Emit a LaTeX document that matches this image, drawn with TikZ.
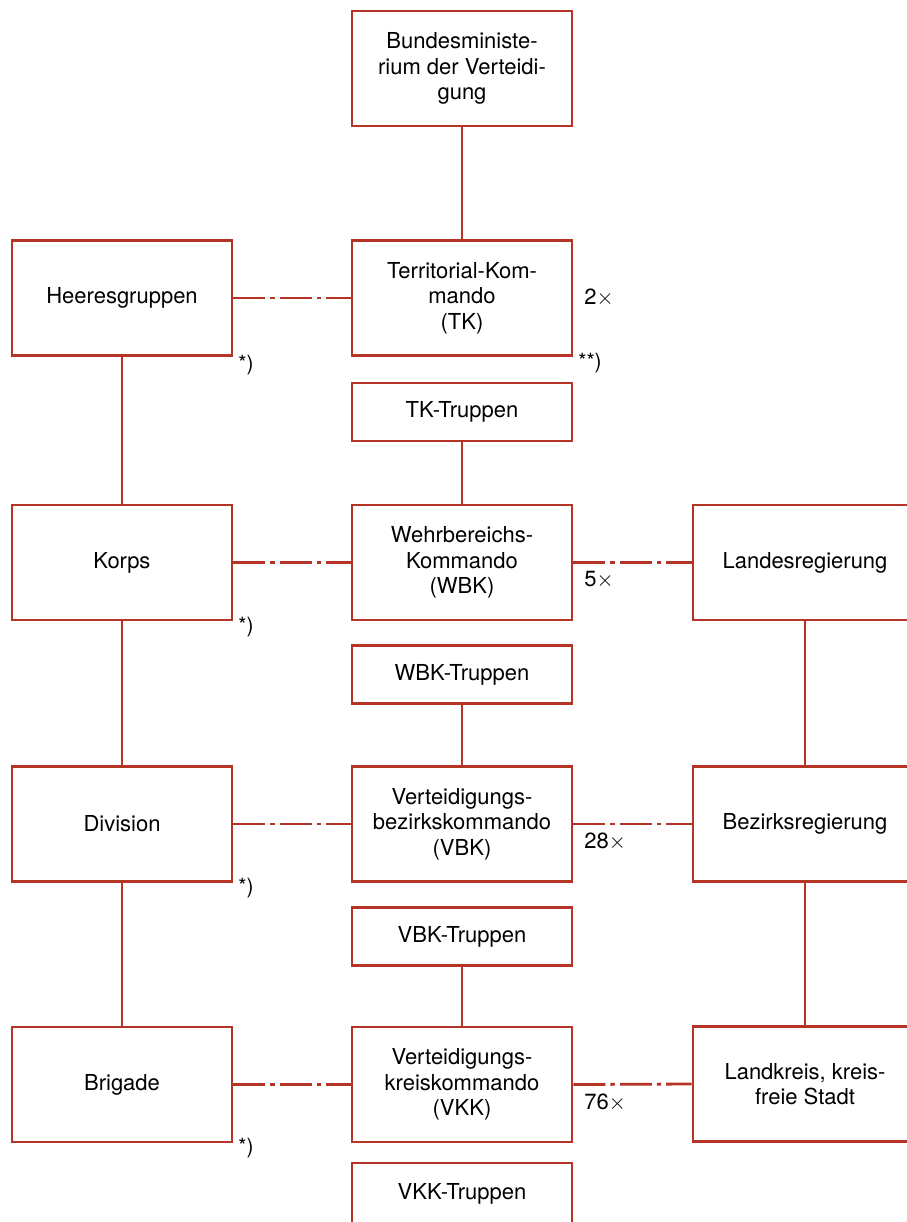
\documentclass[tikz,border=0pt]{standalone}
\usepackage{fontspec}
\setmainfont{TeX Gyre Heros}
\definecolor{lred}{RGB}{182,52,38}
\begin{document}
\begin{tikzpicture}[x=0.5pt,y=-0.5pt,
  box/.style={draw=lred,line width=1.4pt,minimum width=110pt,minimum height=57.5pt,
    inner sep=0pt,align=center,font=\fontsize{11}{12.8}\selectfont,fill=white},
  tbox/.style={box,minimum height=29pt},
  rbox/.style={box,minimum width=112pt},
  link/.style={draw=lred,line width=1.4pt},
  dlink/.style={link,dash pattern=on 16pt off 2.5pt on 2.2pt off 2.5pt},
  lab/.style={font=\fontsize{11}{12.8}\selectfont,inner sep=0pt,anchor=west},
  star/.style={font=\fontsize{10.5}{12}\selectfont,inner sep=0pt,anchor=west}]
\useasboundingbox[fill=white] (0,0) rectangle (906,1222);
% nodes
\node[box] (bund) at (462,68.5) {Bundesministe-\\rium der Verteidi-\\gung};
\node[box] (heer) at (122,298) {Heeresgruppen};
\node[box] (tk) at (462,298) {Territorial-Kom-\\mando\\(TK)};
\node[tbox] (tkt) at (462,412) {TK-Truppen};
\node[box] (korps) at (122,562.5) {Korps};
\node[box] (wbk) at (462,562.5) {Wehrbereichs-\\Kommando\\(WBK)};
\node[rbox] (land) at (805,562.5) {Landesregierung};
\node[tbox] (wbkt) at (462,674.5) {WBK-Truppen};
\node[box] (div) at (122,824) {Division};
\node[box] (vbk) at (462,824) {Verteidigungs-\\bezirkskommando\\(VBK)};
\node[rbox] (bez) at (805,824) {Bezirksregierung};
\node[tbox] (vbkt) at (462,936.5) {VBK-Truppen};
\node[box] (brig) at (122,1084.5) {Brigade};
\node[box] (vkk) at (462,1084.5) {Verteidigungs-\\kreiskommando\\(VKK)};
\node[rbox] (lkr) at (805,1084) {Landkreis, kreis-\\freie Stadt};
\node[tbox,minimum height=31pt] (vkkt) at (462,1194) {VKK-Truppen};
% vertical connectors
\draw[link] (bund.south) -- (tk.north);
\draw[link] (heer.south) -- (korps.north);
\draw[link] (korps.south) -- (div.north);
\draw[link] (div.south) -- (brig.north);
\draw[link] (tkt.south) -- (wbk.north);
\draw[link] (wbkt.south) -- (vbk.north);
\draw[link] (vbkt.south) -- (vkk.north);
\draw[link] (land.south) -- (bez.north);
\draw[link] (bez.south) -- (lkr.north);
% dash-dot connectors
\draw[dlink] (heer.east) -- (tk.west);
\draw[dlink] (korps.east) -- (wbk.west);
\draw[dlink] (wbk.east) -- (land.west);
\draw[dlink] (div.east) -- (vbk.west);
\draw[dlink] (vbk.east) -- (bez.west);
\draw[dlink] (brig.east) -- (vkk.west);
\draw[dlink] (vkk.east) -- (lkr.west);
% labels
\node[lab] (n2) at (584,298) {2$\times$};
\node[lab] (n5) at (584,580) {5$\times$};
\node[lab] (n28) at (584,842) {28$\times$};
\node[lab] (n76) at (584,1103) {76$\times$};
\node[star] (s0) at (578,363) {**)};
\node[star] (s1) at (238,365) {*)};
\node[star] (s2) at (238,627) {*)};
\node[star] (s3) at (238,888) {*)};
\node[star] (s4) at (238,1148) {*)};
\end{tikzpicture}
\end{document}
